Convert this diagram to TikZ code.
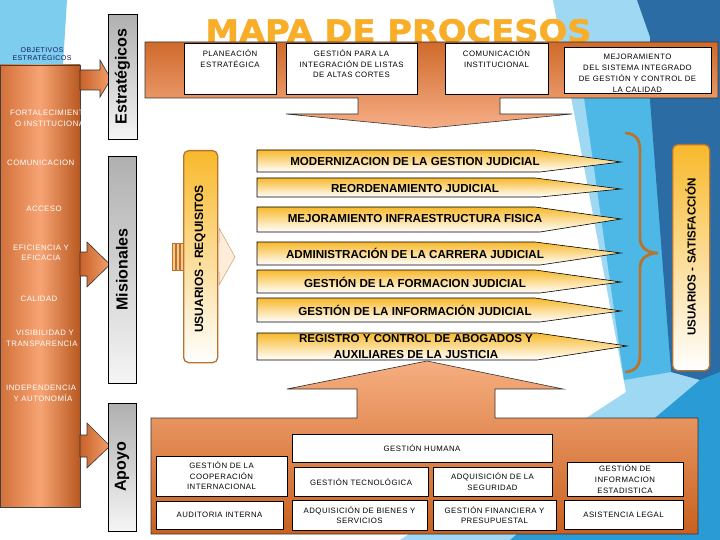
\documentclass[tikz,border=0pt]{standalone}
\usepackage{fontspec}
\setmainfont{Liberation Sans}
\newfontfamily\smf[LetterSpace=6]{Liberation Sans}
\newfontfamily\ttlf[FakeBold=1.5]{DejaVu Sans Bold}
\definecolor{lblue}{HTML}{9ED8F2}
\definecolor{mblue}{HTML}{4DB8E6}
\definecolor{dblue}{HTML}{2C6CA4}
\definecolor{bblue}{HTML}{2A9BD4}
\definecolor{tlblue}{HTML}{7DCDEF}
\definecolor{colL}{HTML}{D2703A}
\definecolor{colM}{HTML}{F7A474}
\definecolor{colR}{HTML}{B85820}
\definecolor{bandT}{HTML}{CF6A2B}
\definecolor{bandB}{HTML}{F6AE86}
\definecolor{supT}{HTML}{F6AE80}
\definecolor{supB}{HTML}{C9601F}
\definecolor{arrL}{HTML}{C8622A}
\definecolor{arrR}{HTML}{F4A06A}
\definecolor{ylw}{HTML}{F8B92C}
\definecolor{brn}{HTML}{B8742E}
\definecolor{navy}{HTML}{1B1B5E}
\definecolor{ttlc}{HTML}{F9AE2A}
\begin{document}
\begin{tikzpicture}[x=1pt,y=-1pt,
 wbox/.style={draw=black, fill=white, line width=0.7pt, inner sep=0pt, anchor=north west},
 st/.style={font=\smf\fontsize{7.8}{10.5}\selectfont, align=center, inner sep=0pt, text=black},
 ct/.style={st, text=white},
 gbar/.style={draw=black, line width=0.7pt, top color=gray!62, bottom color=gray!8, anchor=north west, inner sep=0pt},
 glabel/.style={font=\bfseries\fontsize{16}{16}\selectfont, rotate=90, inner sep=0pt},
 btxt/.style={font=\bfseries\fontsize{11.6}{16.5}\selectfont, align=center, inner sep=0pt},
 bshape/.style={draw=black, line width=0.6pt, top color=ylw, bottom color=white},
 ubox/.style={draw=brn, line width=1.3pt, rounded corners=5pt, top color=ylw, bottom color=white, anchor=north west, inner sep=0pt},
 utxt/.style={font=\bfseries\fontsize{12}{12}\selectfont, rotate=90, inner sep=0pt},
 barrow/.style={draw=black!80, line width=0.6pt, left color=arrL, right color=arrR},
 ttl/.style={font=\ttlf, anchor=base, inner sep=0pt}
]
\useasboundingbox (0,0) rectangle (720,540);
\fill[white] (0,0) rectangle (720,540);
% background decoration
\fill[tlblue] (0,0) -- (67,0) -- (63,65) -- (0,65) -- cycle;
\fill[lblue] (553,0) -- (720,0) -- (720,540) -- (400,540) -- (626,392) -- cycle;
\fill[mblue] (578,55) -- (648,55) -- (671,372) -- (624,380) -- cycle;
\fill[dblue] (637,0) -- (720,0) -- (720,395) -- (700,380) -- (671,372) -- (650,100) -- (650,37) -- cycle;
\fill[bblue] (700,380) -- (720,372) -- (720,540) -- (510,540) -- cycle;

% title
\node[ttl, text=ttlc] (title) at (398.5,42) {\resizebox{386pt}{23pt}{MAPA DE PROCESOS}};

% left column
\path[draw=black!75, line width=0.6pt, left color=colL, right color=colR, middle color=colM] (0,65) rectangle (80,507);
\node[st, text=navy, font=\smf\fontsize{7}{8}\selectfont] (obj) at (42,54) {OBJETIVOS\\ESTRATÉGICOS};
\begin{scope}
\clip (0,65) rectangle (80,507);
\node[ct, anchor=west] (c1a) at (10,113) {FORTALECIMIENT};
\node[ct, anchor=west] (c1b) at (15,124) {O INSTITUCIONAL};
\node[ct, anchor=west] (c2) at (7,163) {COMUNICACION};
\node[ct] (c3) at (44,209) {ACCESO};
\node[ct] (c4) at (41,253) {EFICIENCIA Y\\EFICACIA};
\node[ct] (c5) at (39,299) {CALIDAD};
\node[ct] (c6a) at (45,333) {VISIBILIDAD Y};
\node[ct, anchor=west] (c6b) at (6,344) {TRANSPARENCIA};
\node[ct, anchor=west] (c7a) at (6,388) {INDEPENDENCIA};
\node[ct] (c7b) at (43,398) {Y AUTONOMÍA};
\end{scope}

% block arrows
\path[barrow] (80,70) -- (100,70) -- (100,60) -- (111,79) -- (100,97) -- (100,90) -- (80,90) -- cycle;
\path[barrow] (80,252) -- (87,252) -- (87,242) -- (110,264.5) -- (87,287) -- (87,276) -- (80,276) -- cycle;
\path[barrow] (80,435) -- (87,435) -- (87,423) -- (110,446) -- (87,468) -- (87,457) -- (80,457) -- cycle;

% gray bars
\node[gbar, minimum width=29, minimum height=125] (estr) at (108,14) {};
\node[glabel] (estrT) at (122.5,76.5) {Estratégicos};
\node[gbar, minimum width=28, minimum height=227] (mis) at (108,156) {};
\node[glabel] (misT) at (122,269.5) {Misionales};
\node[gbar, minimum width=28, minimum height=128] (apo) at (108,403) {};
\node[glabel] (apoT) at (122,467) {Apoyo};

% strategic band with down arrow
\path[draw=black!80, line width=0.6pt, top color=bandT, bottom color=bandB]
 (145,42) -- (718,42) -- (718,98) -- (500,98) -- (500,114) -- (572,114) -- (430,128)
 -- (286,114) -- (358,114) -- (358,98) -- (145,98) -- cycle;
\node[wbox, minimum width=92, minimum height=51] (plan) at (184,43) {};
\node[st] (planT) at (230,58.5) {PLANEACIÓN\\ESTRATÉGICA};
\node[wbox, minimum width=131, minimum height=51] (integ) at (286,43) {};
\node[st] (integT) at (351.5,64) {GESTIÓN PARA LA\\INTEGRACIÓN DE LISTAS\\DE ALTAS CORTES};
\node[wbox, minimum width=103, minimum height=51] (comu) at (445,43) {};
\node[st] (comuT) at (496.5,58.5) {COMUNICACIÓN\\INSTITUCIONAL};
\node[wbox, minimum width=147, minimum height=46] (mej) at (564,47) {};
\node[st, font=\smf\fontsize{7.8}{11}\selectfont] (mejT) at (637.5,73.5) {MEJORAMIENTO\\DEL SISTEMA INTEGRADO\\DE GESTIÓN Y CONTROL DE\\LA CALIDAD};

% support box with up arrow
\path[draw=black!80, line width=0.6pt, top color=supT, bottom color=supB]
 (151,534) -- (151,418) -- (357,418) -- (357,389) -- (287,389) -- (427,361) -- (563,389)
 -- (495,389) -- (495,418) -- (698,418) -- (698,534) -- cycle;
\node[wbox, minimum width=260, minimum height=28] (hum) at (292,434) {};
\node[st] (humT) at (422,448) {GESTIÓN HUMANA};
\node[wbox, minimum width=131, minimum height=40] (coop) at (156,456) {};
\node[st] (coopT) at (221.5,476) {GESTIÓN DE LA\\COOPERACIÓN\\INTERNACIONAL};
\node[wbox, minimum width=127, minimum height=28] (aud) at (156,501) {};
\node[st] (audT) at (219.5,515) {AUDITORIA INTERNA};
\node[wbox, minimum width=134, minimum height=29] (tec) at (294,467) {};
\node[st] (tecT) at (361,482) {GESTIÓN TECNOLÓGICA};
\node[wbox, minimum width=119, minimum height=29] (seg) at (433,467) {};
\node[st] (segT) at (492.5,481.5) {ADQUISICIÓN DE LA\\SEGURIDAD};
\node[wbox, minimum width=135, minimum height=30] (bien) at (292,500) {};
\node[st] (bienT) at (359.5,515) {ADQUISICIÓN DE BIENES Y\\SERVICIOS};
\node[wbox, minimum width=123, minimum height=30] (fin) at (433,500) {};
\node[st] (finT) at (494.5,515) {GESTIÓN FINANCIERA Y\\PRESUPUESTAL};
\node[wbox, minimum width=116, minimum height=34] (est) at (567,462) {};
\node[st, font=\smf\fontsize{7.8}{11}\selectfont] (estT) at (625,479) {GESTIÓN DE\\INFORMACION\\ESTADISTICA};
\node[wbox, minimum width=119, minimum height=29] (leg) at (564,500) {};
\node[st] (legT) at (623.5,514.5) {ASISTENCIA LEGAL};

% striped arrow behind requisitos box
\path[draw=brn!70, fill=orange!15, line width=0.5pt] (217,242) -- (219,242) -- (219,228) -- (235,257) -- (219,285) -- (219,272) -- (217,272);
\foreach \sx/\sw in {172/3,176.5/3,180.5/3} {
  \path[draw=brn, fill=orange!45, line width=0.5pt] (\sx,243) rectangle ++(\sw,27);
}
\node[ubox, minimum width=34, minimum height=212] (req) at (183,150) {};
\node[utxt] (reqT) at (200,259) {USUARIOS - REQUISITOS};

% mission banners
\path[bshape] (257,150) -- (535,150) -- (621,162) -- (540,172) -- (257,172) -- cycle;
\node[btxt] (b1) at (415,162) {MODERNIZACION DE LA GESTION JUDICIAL};
\path[bshape] (257,178) -- (535,178) -- (621,189) -- (540,197) -- (257,197) -- cycle;
\node[btxt] (b2) at (415,188.5) {REORDENAMIENTO JUDICIAL};
\path[bshape] (257,207) -- (535,207) -- (621,219) -- (540,232) -- (257,232) -- cycle;
\node[btxt] (b3) at (415,219) {MEJORAMIENTO INFRAESTRUCTURA FISICA};
\path[bshape] (257,242) -- (535,242) -- (621,253) -- (540,265) -- (257,265) -- cycle;
\node[btxt] (b4) at (415,253) {ADMINISTRACIÓN DE LA CARRERA JUDICIAL};
\path[bshape] (257,270) -- (535,270) -- (621,282) -- (540,293) -- (257,293) -- cycle;
\node[btxt] (b5) at (415,282) {GESTIÓN DE LA FORMACION JUDICIAL};
\path[bshape] (257,298) -- (535,298) -- (621,311) -- (540,322) -- (257,322) -- cycle;
\node[btxt] (b6) at (415,310) {GESTIÓN DE LA INFORMACIÓN JUDICIAL};
\path[bshape] (257,333) -- (537,333) -- (627,346) -- (537,360) -- (257,360) -- cycle;
\node[btxt] (b7) at (416,346.5) {REGISTRO Y CONTROL DE ABOGADOS Y\\AUXILIARES DE LA JUSTICIA};

% brace
\draw[brn, line width=2.8pt, line cap=round]
 (626,133) .. controls (636,134) and (640,140) .. (640,150) -- (640,238)
 .. controls (640,248) and (648,253) .. (658,253)
 .. controls (648,253) and (640,258) .. (640,268) -- (640,355)
 .. controls (640,365) and (636,371) .. (626,372);

% satisfaction box
\node[ubox, minimum width=37, minimum height=226] (sat) at (672,144) {};
\node[utxt, font=\bfseries\fontsize{11.6}{12}\selectfont] (satT) at (690.5,257) {USUARIOS - SATISFACCIÓN};
\end{tikzpicture}
\end{document}
